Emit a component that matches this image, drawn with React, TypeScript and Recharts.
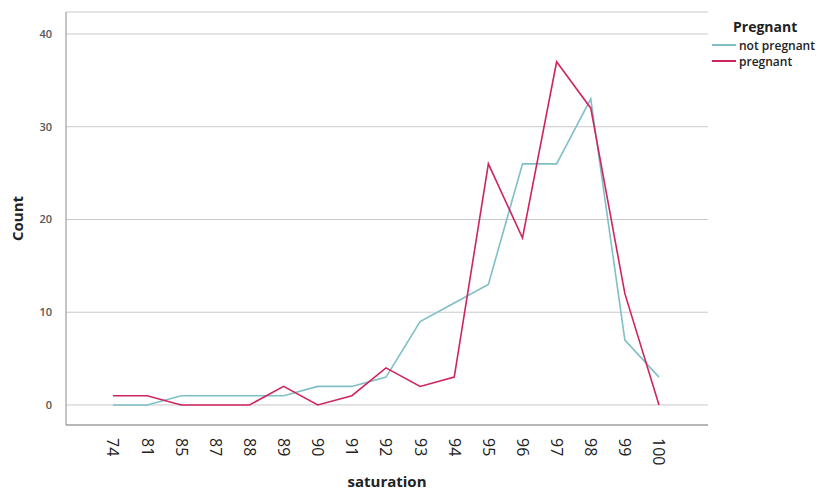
import React from 'react';
import { LineChart, Line, XAxis, YAxis, CartesianGrid, Label } from 'recharts';

const saturation = ['74', '81', '85', '87', '88', '89', '90', '91', '92', '93', '94', '95', '96', '97', '98', '99', '100'];
const notPregnant = [0, 0, 1, 1, 1, 1, 2, 2, 3, 9, 11, 13, 26, 26, 33, 7, 3];
const pregnant = [1, 1, 0, 0, 0, 2, 0, 1, 4, 2, 3, 26, 18, 37, 32, 12, 0];
const yTicks = [0, 10, 20, 30, 40];

const data = saturation.map((s, i) => ({ saturation: s, notPregnant: notPregnant[i], pregnant: pregnant[i] }));

const FONT = '"Open Sans", "DejaVu Sans", sans-serif';
const TEAL = '#7fbfc8';
const RED = '#d0245f';

const series = [
  { key: 'notPregnant', name: 'not pregnant', color: TEAL },
  { key: 'pregnant', name: 'pregnant', color: RED },
];

const XTick = (props: any) => {
  const { x, y, payload } = props;
  return (
    <text
      transform={`translate(${x},${y + 5}) rotate(90)`}
      textAnchor="start"
      dy="0.35em"
      fontSize={16}
      fill="#222"
      fontFamily={FONT}
    >
      {payload.value}
    </text>
  );
};

const LegendBox = () => (
  <div style={{ position: 'absolute', left: 712, top: 17, fontFamily: FONT, color: '#222' }}>
    <div style={{ fontSize: 14, fontWeight: 700, marginLeft: 21, marginBottom: 1 }}>Pregnant</div>
    {series.map((item) => (
      <div key={item.name} style={{ display: 'flex', alignItems: 'center', height: 16, fontSize: 12, fontWeight: 600 }}>
        <span style={{ display: 'inline-block', width: 24, height: 2, background: item.color, marginRight: 3 }} />
        {item.name}
      </div>
    ))}
  </div>
);

export default function App() {
  return (
    <div style={{ position: 'absolute', left: 0, top: 0, width: 836, height: 490, background: '#fff' }}>
      <LineChart width={836} height={490} data={data} margin={{ top: 12, right: 128, bottom: 20, left: 0 }}>
        <CartesianGrid horizontal vertical={false} stroke="#c9c9c9" />
        <XAxis
          dataKey="saturation"
          padding={{ left: 47, right: 49 }}
          height={45}
          tick={<XTick />}
          tickLine={false}
          axisLine={{ stroke: '#8a8a8a' }}
          interval={0}
        >
          <Label
            value="saturation"
            position="bottom"
            offset={6}
            style={{ fontFamily: FONT, fontWeight: 700, fontSize: 15, fill: '#222' }}
          />
        </XAxis>
        <YAxis
          width={66}
          domain={[-2.16, 42.37]}
          ticks={yTicks}
          allowDataOverflow
          tickLine={false}
          axisLine={{ stroke: '#8a8a8a' }}
          tick={{ fontSize: 11, fill: '#555', fontFamily: FONT, fontWeight: 600 }}
          tickMargin={8}
        >
          <Label
            value="Count"
            angle={-90}
            position="insideLeft"
            offset={18}
            style={{ fontFamily: FONT, fontWeight: 700, fontSize: 15, fill: '#222', textAnchor: 'middle' }}
          />
        </YAxis>
        {series.map((s) => (
          <Line
            key={s.key}
            type="linear"
            dataKey={s.key}
            name={s.name}
            stroke={s.color}
            strokeWidth={1.6}
            dot={false}
            isAnimationActive={false}
          />
        ))}
      </LineChart>
      <LegendBox />
    </div>
  );
}
